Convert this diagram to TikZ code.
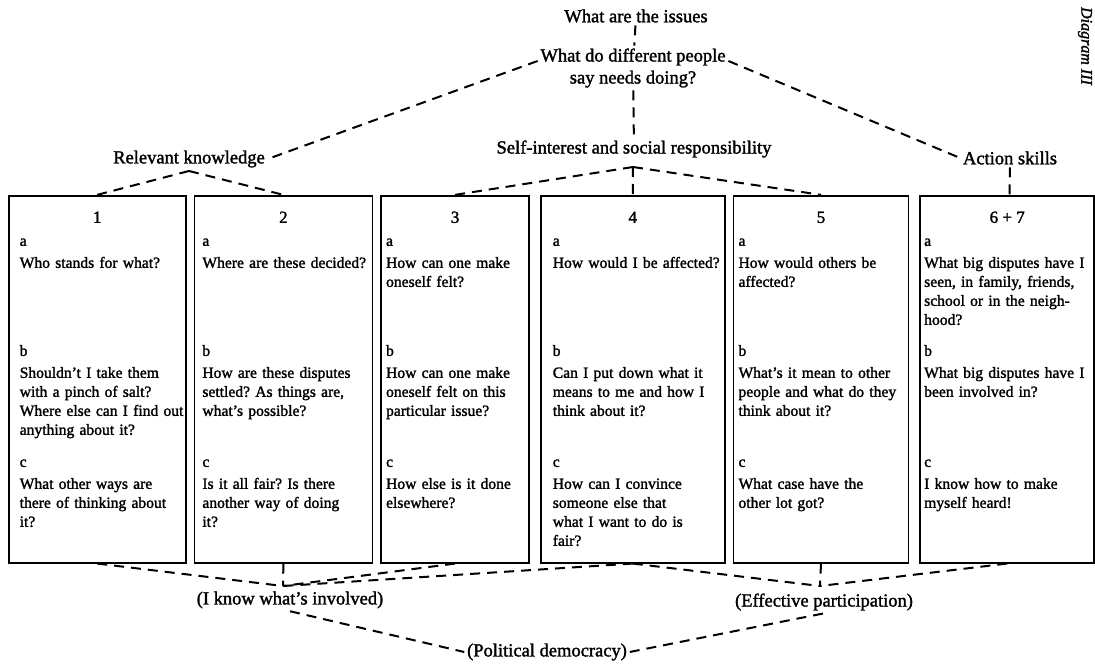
\documentclass[tikz,border=0pt]{standalone}
\usepackage{fontspec}
\setmainfont{Liberation Serif}
\newfontfamily\scanfont{Liberation Serif}[Ligatures=TeX,FakeBold=1.6]
\usetikzlibrary{matrix}
\newcommand{\qpart}[2]{#1\\[3pt]#2}
\frenchspacing

\begin{document}
\begin{tikzpicture}[x=1pt,y=-1pt
	,line width=1.7pt
	,qbox/.style={draw,minimum height=367pt,inner sep=0pt}
	,qnum/.style={anchor=base,inner sep=0pt,font=\scanfont\fontsize{17}{20}\selectfont}
	,qtxt/.style={anchor=base west,text width=200pt,align=left,inner sep=0pt
		,font=\scanfont\fontsize{15.6}{19}\selectfont}
	,head/.style={align=center,inner sep=2pt,font=\scanfont\fontsize{18.5}{22}\selectfont}
	,link/.style={dash pattern=on 10pt off 7pt,line width=2pt}
	]
  \useasboundingbox (0,0) rectangle (1095,669);

  % questions on top
  \node[head](issues) at (636,16) {What are the issues};
  \node[head](people) at (633,68) {What do different people\\say needs doing?};
  \node[head](selfint) at (634,149) {Self-interest and social responsibility};
  \node[head](relknow) at (189,159) {Relevant knowledge};
  \node[head](action) at (1010,158) {Action skills};
  \coordinate (rj) at (189,171);
  \coordinate (sj) at (633,167);
  \node[rotate=-90,inner sep=0pt,font=\scanfont\itshape\fontsize{16}{20}\selectfont](diag)
    at (1085,46) {Diagram III};

  \matrix (boxes) [column sep=7pt,inner sep=0pt,anchor=north west] at (7,194) {
    \node[qbox,minimum width=177pt](b1) {}; &
    \node[qbox,minimum width=178pt](b2) {}; &
    \node[qbox,minimum width=148pt](b3) {}; &[3pt]
    \node[qbox,minimum width=184pt](b4) {}; &
    \node[qbox,minimum width=175pt](b5) {}; &[3pt]
    \node[qbox,minimum width=174pt](b6) {};
    \\
  };

  % box 1
  \node[qnum](n1) at ([yshift=-28pt]b1.north) {1};
  \node[qtxt](s1a) at ([xshift=11pt,yshift=-51pt]b1.north west)
    {\qpart{a}{Who stands for what?}};
  \node[qtxt](s1b) at ([xshift=11pt,yshift=-161pt]b1.north west)
    {\qpart{b}{Shouldn't I take them\\with a pinch of salt?\\Where else can I find out\\anything about it?}};
  \node[qtxt](s1c) at ([xshift=11pt,yshift=-272pt]b1.north west)
    {\qpart{c}{What other ways are\\there of thinking about\\it?}};
  % box 2
  \node[qnum](n2) at ([yshift=-28pt]b2.north) {2};
  \node[qtxt](s2a) at ([xshift=8pt,yshift=-51pt]b2.north west)
    {\qpart{a}{Where are these decided?}};
  \node[qtxt](s2b) at ([xshift=8pt,yshift=-161pt]b2.north west)
    {\qpart{b}{How are these disputes\\settled? As things are,\\what's possible?}};
  \node[qtxt](s2c) at ([xshift=8pt,yshift=-272pt]b2.north west)
    {\qpart{c}{Is it all fair? Is there\\another way of doing\\it?}};
  % box 3
  \node[qnum](n3) at ([yshift=-28pt]b3.north) {3};
  \node[qtxt](s3a) at ([xshift=5pt,yshift=-51pt]b3.north west)
    {\qpart{a}{How can one make\\oneself felt?}};
  \node[qtxt](s3b) at ([xshift=5pt,yshift=-161pt]b3.north west)
    {\qpart{b}{How can one make\\oneself felt on this\\particular issue?}};
  \node[qtxt](s3c) at ([xshift=5pt,yshift=-272pt]b3.north west)
    {\qpart{c}{How else is it done\\elsewhere?}};
  % box 4
  \node[qnum](n4) at ([yshift=-28pt]b4.north) {4};
  \node[qtxt](s4a) at ([xshift=12pt,yshift=-51pt]b4.north west)
    {\qpart{a}{How would I be affected?}};
  \node[qtxt](s4b) at ([xshift=12pt,yshift=-161pt]b4.north west)
    {\qpart{b}{Can I put down what it\\means to me and how I\\think about it?}};
  \node[qtxt](s4c) at ([xshift=12pt,yshift=-272pt]b4.north west)
    {\qpart{c}{How can I convince\\someone else that\\what I want to do is\\fair?}};
  % box 5
  \node[qnum](n5) at ([yshift=-28pt]b5.north) {5};
  \node[qtxt](s5a) at ([xshift=5pt,yshift=-51pt]b5.north west)
    {\qpart{a}{How would others be\\affected?}};
  \node[qtxt](s5b) at ([xshift=5pt,yshift=-161pt]b5.north west)
    {\qpart{b}{What's it mean to other\\people and what do they\\think about it?}};
  \node[qtxt](s5c) at ([xshift=5pt,yshift=-272pt]b5.north west)
    {\qpart{c}{What case have the\\other lot got?}};
  % box 6+7
  \node[qnum](n6) at ([yshift=-28pt]b6.north) {6 + 7};
  \node[qtxt](s6a) at ([xshift=4pt,yshift=-51pt]b6.north west)
    {\qpart{a}{What big disputes have I\\seen, in family, friends,\\school or in the neigh-\\hood?}};
  \node[qtxt](s6b) at ([xshift=4pt,yshift=-161pt]b6.north west)
    {\qpart{b}{What big disputes have I\\been involved in?}};
  \node[qtxt](s6c) at ([xshift=4pt,yshift=-272pt]b6.north west)
    {\qpart{c}{I know how to make\\myself heard!}};

  % outcomes below
  \coordinate (ij) at (283,586);
  \coordinate (ej) at (820,586);
  \node[head](iknow) at (290,600) {(I know what's involved)};
  \node[head](effpart) at (824,602) {(Effective participation)};
  \node[head](polit) at (547,652) {(Political democracy)};

  % top links
  \path [link] (issues) edge (people);
  \path [link] (people) edge (selfint);
  \path [link] ([yshift=7pt]people.west) edge (relknow.east);
  \path [link] ([yshift=7pt]people.east) edge (action.west);
  \path [link] (rj) edge (b1.north);
  \path [link] (rj) edge (b2.north);
  \path [link] (sj) edge (b3.north);
  \path [link] (sj) edge (b4.north);
  \path [link] (sj) edge (b5.north);
  \path [link] (action) edge (b6);
  % bottom links
  \path [link] (b1.south) edge (ij);
  \path [link] (b2.south) edge (ij);
  \path [link] (b3.south) edge (ij);
  \path [link] (b4.south) edge (ij);
  \path [link] (b4.south) edge (ej);
  \path [link] (b5.south) edge (ej);
  \path [link] (b6.south) edge (ej);
  \path [link] (iknow.south) edge (polit.west);
  \path [link] (polit.east) edge (effpart.south);

\end{tikzpicture}
\end{document}
